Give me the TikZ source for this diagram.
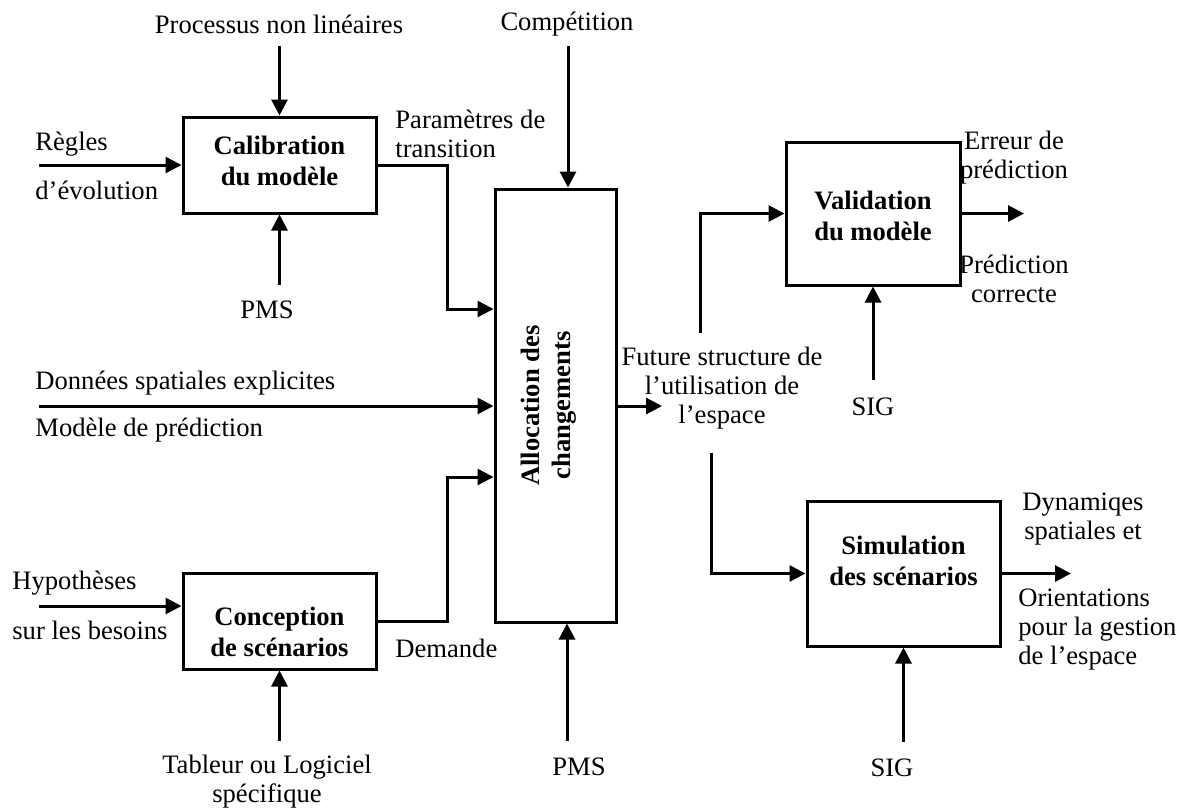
\documentclass[tikz,border=0pt]{standalone}
\usepackage{fontspec}
\setmainfont{Liberation Serif}
\usetikzlibrary{arrows.meta}
\begin{document}
\begin{tikzpicture}[x=0.5pt,y=-0.5pt,
  font=\fontsize{13.3}{14.5}\selectfont,
  box/.style={draw, line width=1.5pt, inner sep=0pt},
  boxtxt/.style={inner sep=0pt, align=center, font=\fontsize{13.3}{15.5}\selectfont\bfseries},
  lbl/.style={inner sep=0pt, align=center},
  lbll/.style={inner sep=0pt, align=left, anchor=west},
  flow/.style={line width=1.5pt, -{Triangle[length=8pt,width=8pt]}},
]
\useasboundingbox (0,0) rectangle (1180,810);

% process boxes
\node[box, minimum width=96.5pt, minimum height=48pt,
  label={[boxtxt, name=calibT, yshift=2pt]center:Calibration\\du modèle}] (calib) at (279.5,165) {};
\node[box, minimum width=96.5pt, minimum height=48pt,
  label={[boxtxt, name=concepT, yshift=-5.5pt]center:Conception\\de scénarios}] (concep) at (279.5,621) {};
\node[box, minimum width=60.5pt, minimum height=216.5pt,
  label={[boxtxt, name=allocT, rotate=90, xshift=0pt, yshift=3.5pt]center:Allocation des\\changements}] (alloc) at (555.5,405.5) {};
\node[box, minimum width=87pt, minimum height=71.5pt,
  label={[boxtxt, name=validT, yshift=-1pt]center:Validation\\du modèle}] (valid) at (873,213.5) {};
\node[box, minimum width=96.5pt, minimum height=72.5pt,
  label={[boxtxt, name=simulT, yshift=6.5pt]center:Simulation\\des scénarios}] (simul) at (903.5,573.5) {};

% texts
\node[lbl] (tProc) at (279,24) {Processus non linéaires};
\node[lbll] (tRegles) at (35,144) {Règles};
\node[lbll] (tEvol) at (35,190) {d’évolution};
\node[lbl] (tPms1) at (267,310) {PMS};
\node[lbll] (tParam) at (395,134) {Paramètres de\\transition};
\node[lbl] (tComp) at (567,24) {Compétition};
\node[lbll] (tDon) at (35,383) {Données spatiales explicites};
\node[lbll] (tMod) at (35,430) {Modèle de prédiction};
\node[lbll] (tHyp) at (12,583) {Hypothèses};
\node[lbll] (tBes) at (12,630) {sur les besoins};
\node[lbl] (tTab) at (267,782) {Tableur ou Logiciel\\spécifique};
\node[lbll] (tDem) at (395,648) {Demande};
\node[lbl] (tPms2) at (579,767) {PMS};
\node[lbl] (tFut) at (722,388) {Future structure de\\l’utilisation de\\l’espace};
\node[lbl] (tErr) at (1014,158) {Erreur de\\prédiction};
\node[lbl] (tCor) at (1014,279) {Prédiction\\correcte};
\node[lbl] (tSig1) at (873,407) {SIG};
\node[lbl] (tDyn) at (1083,519) {Dynamiqes\\spatiales et};
\node[lbll] (tOri) at (1018,630) {Orientations\\pour la gestion\\de l’espace};
\node[lbl] (tSig2) at (892,768) {SIG};

% free ends and bends
\coordinate (pProc) at (279.5,46);
\coordinate (pRegles) at (39,165);
\coordinate (pPms1) at (279.5,285);
\coordinate (j1) at (447,309);
\coordinate (pComp) at (568,46);
\coordinate (pDon) at (39,406);
\coordinate (j2) at (447,477);
\coordinate (pPms2) at (567,741);
\coordinate (pFut) at (662,406);
\coordinate (pUp) at (700,333);
\coordinate (pDown) at (711,453);
\coordinate (pErr) at (1024,213.5);
\coordinate (pSig1) at (873,380);
\coordinate (pDyn) at (1071,573.5);
\coordinate (pSig2) at (903.5,742);
\coordinate (pHyp) at (39,606);
\coordinate (pTab) at (279.5,741);

% connectors
\draw[flow] (pProc) -- (calib.north);
\draw[flow] (pRegles) -- (pRegles -| calib.west);
\draw[flow] (pPms1) -- (calib.south);
\draw[flow] (calib.east) -| (j1) -- (j1 -| alloc.west);
\draw[flow] (pComp) -- (pComp |- alloc.north);
\draw[flow] (pDon) -- (pDon -| alloc.west);
\draw[flow] (concep.east) -| (j2) -- (j2 -| alloc.west);
\draw[flow] (pPms2) -- (pPms2 |- alloc.south);
\draw[flow] (pFut -| alloc.east) -- (pFut);
\draw[flow] (pUp) |- (valid.west);
\draw[flow] (pDown) |- (simul.west);
\draw[flow] (valid.east) -- (pErr);
\draw[flow] (pSig1) -- (valid.south);
\draw[flow] (simul.east) -- (pDyn);
\draw[flow] (pSig2) -- (simul.south);
\draw[flow] (pHyp) -- (pHyp -| concep.west);
\draw[flow] (pTab) -- (concep.south);
\end{tikzpicture}
\end{document}
